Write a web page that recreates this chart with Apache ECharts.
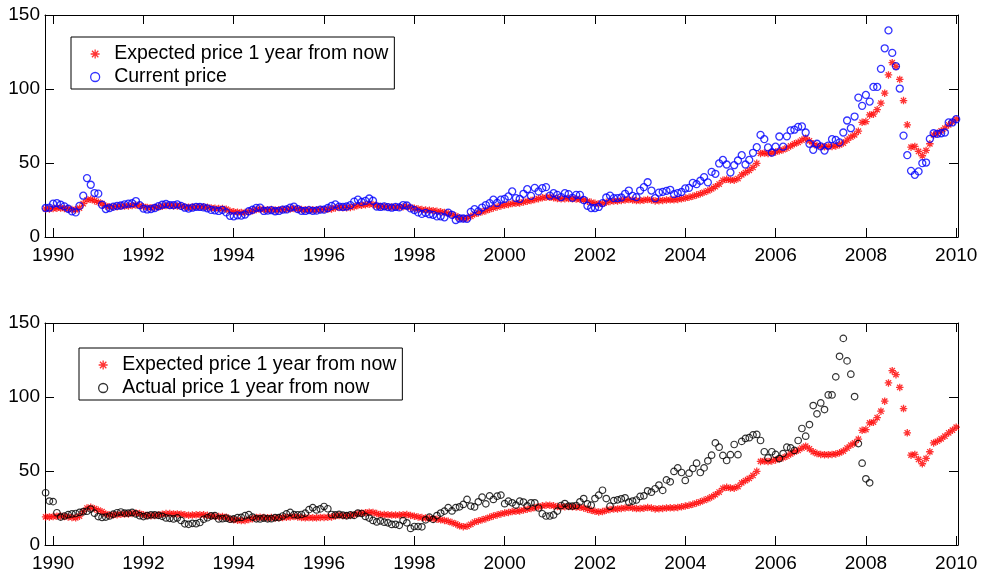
<!DOCTYPE html>
<html>
<head>
<meta charset="utf-8">
<title>Expected and actual oil price</title>
<script src="https://cdn.jsdelivr.net/npm/echarts@6.0.0/dist/echarts.min.js"></script>
<style>
  html, body { margin: 0; padding: 0; background: #fff; }
  #main { width: 986px; height: 574px; }
</style>
</head>
<body>
<div id="main"></div>
<script>
// monthly data, first point = Nov 1989
const firstYear = 1989;
const firstMonth = 11;

const yearTicks = [1990, 1992, 1994, 1996, 1998, 2000, 2002, 2004, 2006, 2008, 2010];

// expected price 1 year from now, Nov 1989 .. Jan 2010
const expected = [
  19.0, 19.0,
  19.2, 19.5, 19.6, 19.3, 19.0, 18.6, 18.4, 19.5, 22.5, 25.0, 25.5, 24.5,
  23.5, 22.5, 21.0, 20.3, 20.3, 20.5, 20.7, 20.9, 21.0, 21.3, 21.6, 21.2,
  20.5, 20.0, 19.8, 20.0, 20.3, 20.8, 21.2, 21.2, 21.0, 21.0, 20.8, 20.4,
  20.1, 20.2, 20.4, 20.5, 20.4, 20.1, 19.6, 19.4, 19.2, 19.2, 18.8, 17.5,
  17.0, 16.8, 16.5, 16.6, 17.2, 17.8, 18.5, 18.8, 18.5, 18.4, 18.5, 18.3,
  18.4, 18.6, 18.7, 19.0, 19.3, 19.0, 18.5, 18.4, 18.5, 18.4, 18.4, 18.6,
  18.6, 18.7, 19.0, 19.6, 20.0, 19.8, 19.8, 20.0, 20.5, 21.2, 21.5, 21.8,
  22.2, 22.0, 21.2, 20.6, 20.6, 20.4, 20.2, 20.2, 20.2, 20.5, 20.6, 20.0,
  19.5, 19.0, 18.5, 18.2, 18.0, 17.8, 17.4, 17.0, 16.6, 16.0, 15.2, 14.2,
  13.0, 12.4, 12.6, 14.0, 15.5, 16.3, 17.0, 17.8, 18.7, 19.6, 20.3, 21.0,
  21.6, 22.0, 22.6, 22.8, 23.0, 23.6, 24.2, 24.6, 25.3, 25.9, 26.5, 26.8,
  26.9, 26.5, 26.0, 25.8, 25.9, 26.0, 25.8, 25.6, 25.5, 25.0, 24.2, 23.4,
  22.8, 22.3, 22.6, 23.4, 24.0, 24.3, 24.4, 24.7, 25.0, 25.3, 25.0, 24.6,
  24.6, 24.9, 25.3, 25.0, 24.4, 24.5, 24.7, 25.0, 25.1, 25.1, 25.4, 25.8,
  26.3, 26.8, 27.5, 28.3, 29.2, 30.2, 31.2, 32.5, 34.0, 35.8, 38.3, 39.0,
  38.5, 38.4, 39.5, 42.0, 43.5, 45.0, 47.0, 49.8, 56.5, 56.8, 56.4, 56.8,
  57.5, 58.2, 59.0, 60.0, 61.5, 63.0, 64.0, 65.5, 66.8, 65.0, 63.0, 61.8,
  61.2, 61.0, 61.0, 61.2, 61.5, 62.3, 63.5, 65.5, 67.5, 69.0, 71.5, 77.5,
  78.0, 82.5, 83.0, 86.0, 90.4, 97.2, 109.5, 117.8, 115.1, 106.5, 92.2, 75.8,
  60.7, 61.2, 57.8, 54.9, 58.5, 63.0, 69.0, 70.1, 71.7, 73.5, 75.8, 77.6,
  79.6
];

// current price, Nov 1989 .. Jan 2010
const current = [
  19.6, 19.8,
  22.5, 22.9, 21.8, 20.7, 19.1, 17.3, 16.6, 21.0, 27.9, 39.8, 35.3, 29.7,
  29.3, 21.8, 18.9, 19.6, 20.5, 21.0, 21.3, 22.0, 22.5, 22.8, 24.3, 21.5,
  19.2, 18.6, 18.9, 19.6, 20.8, 21.8, 22.3, 21.6, 21.6, 22.0, 21.0, 19.8,
  19.2, 19.8, 20.4, 20.3, 20.0, 19.4, 18.3, 18.0, 17.6, 18.3, 16.6, 14.3,
  14.0, 14.6, 14.4, 15.2, 17.4, 18.4, 19.7, 19.8, 17.6, 17.8, 18.1, 17.4,
  17.6, 18.5, 18.6, 19.8, 20.5, 18.9, 17.7, 17.6, 18.2, 17.7, 17.8, 18.5,
  18.5, 19.6, 21.0, 22.0, 20.5, 20.3, 20.6, 21.5, 23.9, 25.2, 23.7, 24.4,
  26.0, 24.5, 20.6, 20.3, 20.7, 20.2, 19.8, 20.3, 20.0, 21.6, 21.3, 19.3,
  18.2, 16.6, 15.6, 16.3, 15.4, 15.0, 13.9, 14.0, 13.3, 16.5, 15.0, 11.5,
  12.5, 12.5, 12.3, 17.0, 18.8, 17.3, 19.9, 21.6, 22.9, 25.2, 23.0, 25.2,
  25.8, 27.4, 30.8, 26.3, 25.7, 29.2, 32.3, 27.8, 33.2, 30.8, 33.0, 33.7,
  27.9, 29.6, 28.5, 27.0, 29.6, 29.0, 26.5, 28.5, 28.5, 25.0, 21.1, 19.6,
  19.6, 20.3, 22.9, 26.7, 28.0, 26.3, 26.3, 26.7, 29.2, 31.4, 27.8, 26.9,
  31.4, 33.7, 37.0, 31.4, 26.2, 30.0, 30.5, 31.2, 31.9, 29.0, 29.7, 30.4,
  32.8, 33.2, 36.6, 35.7, 38.0, 40.5, 36.9, 44.0, 42.7, 49.7, 52.1, 49.0,
  43.6, 48.5, 51.7, 55.3, 49.0, 52.1, 56.9, 60.7, 69.0, 66.1, 60.5, 57.1,
  61.0, 67.9, 61.0, 68.0, 72.0, 72.5, 74.4, 74.7, 70.6, 63.0, 58.9, 63.0,
  61.2, 58.4, 61.8, 66.1, 65.6, 63.9, 70.6, 78.7, 73.5, 81.4, 94.2, 88.6,
  96.0, 91.5, 101.4, 101.4, 113.6, 127.5, 139.6, 124.4, 115.4, 100.3, 68.5, 55.3,
  44.7, 42.0, 44.3, 49.9, 50.3, 66.3, 70.1, 69.7, 70.1, 70.6, 77.4, 77.4,
  79.6
];

// actual price 1 year from now, Nov 1989 .. Feb 2008
const actualNext = [
  35.3, 29.7,
  29.3, 21.8, 18.9, 19.6, 20.5, 21.0, 21.3, 22.0, 22.5, 22.8, 24.3, 21.5,
  19.2, 18.6, 18.9, 19.6, 20.8, 21.8, 22.3, 21.6, 21.6, 22.0, 21.0, 19.8,
  19.2, 19.8, 20.4, 20.3, 20.0, 19.4, 18.3, 18.0, 17.6, 18.3, 16.6, 14.3,
  14.0, 14.6, 14.4, 15.2, 17.4, 18.4, 19.7, 19.8, 17.6, 17.8, 18.1, 17.4,
  17.6, 18.5, 18.6, 19.8, 20.5, 18.9, 17.7, 17.6, 18.2, 17.7, 17.8, 18.5,
  18.5, 19.6, 21.0, 22.0, 20.5, 20.3, 20.6, 21.5, 23.9, 25.2, 23.7, 24.4,
  26.0, 24.5, 20.6, 20.3, 20.7, 20.2, 19.8, 20.3, 20.0, 21.6, 21.3, 19.3,
  18.2, 16.6, 15.6, 16.3, 15.4, 15.0, 13.9, 14.0, 13.3, 16.5, 15.0, 11.2,
  12.5, 12.5, 12.3, 17.0, 18.8, 17.3, 19.9, 21.6, 22.9, 25.2, 23.0, 25.2,
  25.8, 27.4, 30.8, 26.3, 25.7, 29.2, 32.3, 27.8, 33.2, 30.8, 33.0, 33.7,
  27.9, 29.6, 28.5, 27.0, 29.6, 29.0, 26.5, 28.5, 28.5, 25.0, 21.1, 19.6,
  19.6, 20.3, 22.9, 26.7, 28.0, 26.3, 26.3, 26.7, 29.2, 31.4, 27.8, 26.9,
  31.4, 33.7, 37.0, 31.4, 26.2, 30.0, 30.5, 31.2, 31.9, 29.0, 29.7, 30.4,
  32.8, 33.2, 36.6, 35.7, 38.0, 40.5, 36.9, 44.0, 42.7, 49.7, 52.1, 49.0,
  43.6, 48.5, 51.7, 55.3, 49.0, 52.1, 56.9, 60.7, 69.0, 66.1, 60.5, 57.1,
  61.0, 67.9, 61.0, 70.0, 72.0, 72.5, 74.4, 74.7, 70.6, 63.0, 58.9, 63.0,
  61.2, 58.4, 61.8, 66.1, 65.6, 63.9, 70.6, 78.7, 73.5, 81.4, 94.2, 88.6,
  96.0, 91.5, 101.4, 101.4, 113.6, 127.5, 139.6, 124.4, 115.4, 100.3, 68.5, 55.3,
  44.7, 42.0
];

const expectedName = 'Expected price 1 year from now';
const font = 'Liberation Sans, Arial, Helvetica, sans-serif';
const asterisk = 'path://M0 -10L0 10M-10 0L10 0M-7.1 -7.1L7.1 7.1M-7.1 7.1L7.1 -7.1';

function monthTime(i) {
  return firstYear + (firstMonth - 1 + i) / 12;
}
function toPoints(values) {
  return values.map(function (v, i) { return [monthTime(i), v]; });
}

const chart = echarts.init(document.getElementById('main'), null, { renderer: 'canvas' });

function xAxisFor(gridIndex, pos) {
  return {
    type: 'value', gridIndex: gridIndex, position: pos,
    min: 1989.82, max: 2010.04,
    axisLine: { show: true, onZero: false, lineStyle: { color: '#000', width: 1 } },
    axisTick: { show: true, inside: true, length: 9, customValues: yearTicks, lineStyle: { color: '#000' } },
    axisLabel: {
      show: pos === 'bottom', customValues: yearTicks, margin: 9,
      color: '#000', fontSize: 19, fontFamily: font,
      formatter: function (v) { return String(v); }
    },
    splitLine: { show: false }
  };
}
function yAxisFor(gridIndex, pos) {
  return {
    type: 'value', gridIndex: gridIndex, position: pos,
    min: 0, max: 150, interval: 50,
    axisLine: { show: true, lineStyle: { color: '#000', width: 1 } },
    axisTick: { show: true, inside: true, length: 9, lineStyle: { color: '#000' } },
    axisLabel: { show: pos === 'left', margin: 5, color: '#000', fontSize: 19, fontFamily: font },
    splitLine: { show: false }
  };
}
function legendAt(left, top, names) {
  return {
    data: names, orient: 'vertical', left: left, top: top,
    selectedMode: false, backgroundColor: '#fff',
    borderColor: '#000', borderWidth: 1, borderRadius: 0,
    padding: [6, 6, 1, 19], itemGap: 1, itemWidth: 28, itemHeight: 9,
    itemStyle: { borderWidth: 1.3 },
    textStyle: { color: '#000', fontSize: 19.5, fontFamily: font, lineHeight: 22 }
  };
}

chart.setOption({
  animation: false,
  backgroundColor: '#fff',
  grid: [
    { left: 45, right: 28, top: 15, height: 222 },
    { left: 45, right: 28, top: 323, height: 222 }
  ],
  xAxis: [xAxisFor(0, 'bottom'), xAxisFor(0, 'top'), xAxisFor(1, 'bottom'), xAxisFor(1, 'top')],
  yAxis: [yAxisFor(0, 'left'), yAxisFor(0, 'right'), yAxisFor(1, 'left'), yAxisFor(1, 'right')],
  legend: [
    legendAt(71, 37, [expectedName, 'Current price']),
    legendAt(79, 348, [expectedName, 'Actual price 1 year from now'])
  ],
  series: [
    {
      name: expectedName, type: 'scatter', xAxisIndex: 0, yAxisIndex: 0,
      data: toPoints(expected), symbol: asterisk, symbolSize: 7.5,
      itemStyle: { color: 'rgba(0,0,0,0)', borderColor: '#ff0000', borderWidth: 1.3 }
    },
    {
      name: 'Current price', type: 'scatter', xAxisIndex: 0, yAxisIndex: 0,
      data: toPoints(current), symbol: 'circle', symbolSize: 7,
      itemStyle: { color: 'rgba(0,0,0,0)', borderColor: '#0000ff', borderWidth: 1.3 }
    },
    {
      name: expectedName, type: 'scatter', xAxisIndex: 2, yAxisIndex: 2,
      data: toPoints(expected), symbol: asterisk, symbolSize: 7.5,
      itemStyle: { color: 'rgba(0,0,0,0)', borderColor: '#ff0000', borderWidth: 1.3 }
    },
    {
      name: 'Actual price 1 year from now', type: 'scatter', xAxisIndex: 2, yAxisIndex: 2,
      data: toPoints(actualNext), symbol: 'circle', symbolSize: 6.5,
      itemStyle: { color: 'rgba(0,0,0,0)', borderColor: '#000', borderWidth: 1.2 }
    }
  ]
});
</script>
</body>
</html>
